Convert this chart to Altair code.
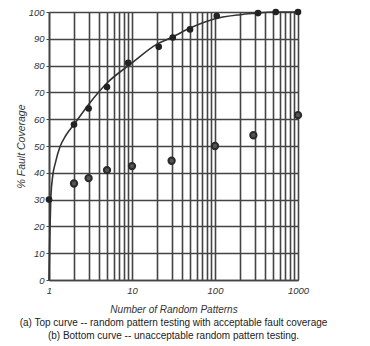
import altair as alt
import pandas as pd

# Top curve points (acceptable fault coverage)
top_x = [1, 2, 3, 5, 9, 21, 31, 50, 105, 330, 540, 1000]
top_y = [30, 58, 64, 72, 81, 87, 90.5, 93.5, 98.5, 99.6, 100, 100]
# Bottom points (unacceptable)
bot_x = [2, 3, 5, 10, 30, 100, 290, 1000]
bot_y = [36, 38, 41, 42.5, 44.5, 50, 54, 61.5]
# Smooth fitted curve
curve_x = [1.0, 1.02, 1.05, 1.1, 1.2, 1.35, 1.6, 2, 3, 5, 10, 20, 30, 50, 100, 200, 300, 500, 1000]
curve_y = [0, 15, 30, 38, 44, 49.5, 54, 58, 65.5, 73.5, 81, 88, 90.5, 94, 97.5, 99, 99.5, 100, 100]

x_grid = [1, 2, 3, 4, 5, 6, 7, 8, 9, 10, 20, 30, 40, 50, 60, 70, 80, 90,
          100, 200, 300, 400, 500, 600, 700, 800, 900, 1000]
y_ticks = [0, 10, 20, 30, 40, 50, 60, 70, 80, 90, 100]

title_x = "Number of Random Patterns"
title_y = "% Fault Coverage"
captions = ["(a) Top curve -- random pattern testing with acceptable fault coverage",
            "(b) Bottom curve -- unacceptable random pattern testing."]

df = pd.concat([
    pd.DataFrame({"x": curve_x, "y": curve_y, "kind": "curve"}),
    pd.DataFrame({"x": top_x, "y": top_y, "kind": "top"}),
    pd.DataFrame({"x": bot_x, "y": bot_y, "kind": "bottom"}),
], ignore_index=True)

FONT = "Liberation Sans"

xs = alt.Scale(type="log", domain=[1, 1000], nice=False)
ys = alt.Scale(domain=[0, 100], nice=False)

x_axis = alt.Axis(values=x_grid, title=title_x,
                  labelExpr="indexof(['1','10','100','1000'], toString(datum.value)) >= 0 ? datum.label : ''",
                  format="d", grid=True, ticks=False, labelPadding=5, titlePadding=10,
                  labelOverlap=False, labelFlush=False, titleFontSize=10,
                  labelFontStyle="italic", titleFontStyle="italic")
y_axis = alt.Axis(values=y_ticks, title=title_y, grid=True, tickSize=3,
                  labelPadding=2, titlePadding=2, labelOverlap=False, labelFlush=False,
                  titleFontSize=10.5,
                  labelFontStyle="italic", titleFontStyle="italic")

base = alt.Chart(df).encode(
    x=alt.X("x:Q", scale=xs, axis=x_axis),
    y=alt.Y("y:Q", scale=ys, axis=y_axis),
)

curve = base.transform_filter(alt.datum.kind == "curve").mark_line(
    color="#333333", strokeWidth=1.6, interpolate="monotone")
top_pts = base.transform_filter(alt.datum.kind == "top").mark_circle(
    color="#222222", size=44, opacity=1)
bot_pts = base.transform_filter(alt.datum.kind == "bottom").mark_point(
    color="#2a2a2a", fill="#555555", filled=False, size=40, strokeWidth=2, opacity=1)

chart = alt.layer(curve, top_pts, bot_pts).properties(
    width=249, height=268,
    background="white",
    autosize=alt.AutoSizeParams(type="none"),
    padding={"left": 41, "top": 4, "right": 60, "bottom": 62},
    title=alt.TitleParams(captions, orient="bottom", anchor="middle", fontSize=10,
                          fontWeight="normal", font=FONT, color="#222222", offset=3,
                          lineHeight=13),
).configure_axis(
    labelFont=FONT, titleFont=FONT, labelFontSize=9.5,
    titleFontWeight="normal", labelColor="#333333", titleColor="#333333",
    gridColor="#444444", gridWidth=1.6, gridOpacity=1,
    domainColor="#444444", domainWidth=1.6, tickColor="#444444",
).configure_view(stroke=None)

chart.save("out.html", embed_options={"renderer": "svg", "actions": False})
